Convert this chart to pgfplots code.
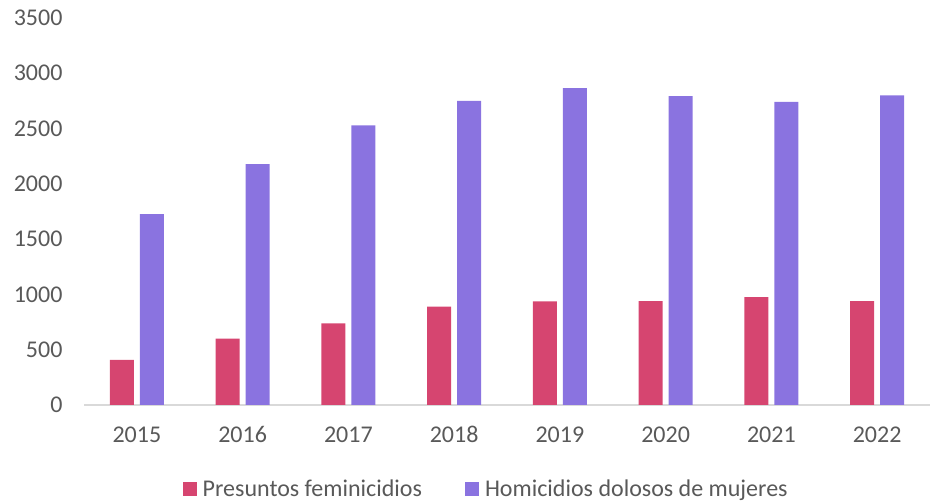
\documentclass[border=0pt]{standalone}
\usepackage{pgfplots}
\pgfplotsset{compat=1.18}
\usepackage{fontspec}
\setmainfont{Carlito}
\definecolor{cred}{HTML}{D64570}
\definecolor{cpur}{HTML}{8A73E0}
\definecolor{ctxt}{HTML}{595959}
\definecolor{cax}{HTML}{D9D9D9}
\begin{document}
\begin{tikzpicture}[x=1pt,y=1pt]
\path[use as bounding box] (0,0) rectangle (932,502);
\begin{axis}[
  at={(84pt,97pt)}, anchor=south west,
  scale only axis, width=846pt, height=387pt,
  font=\fontsize{24}{28}\selectfont, text=ctxt,
  ybar=6pt, bar width=24pt,
  xmin=-0.5, xmax=7.5, ymin=0, ymax=3500,
  xtick={0,...,7},
  xticklabels={2015,2016,2017,2018,2019,2020,2021,2022},
  ytick={0,500,...,3500},
  axis x line*=bottom, axis y line*=left,
  x axis line style={draw=cax, line width=1.5pt, -},
  y axis line style={draw=none},
  major tick length=0pt,
  tick style={draw=none},
  yticklabel style={xshift=-18pt},
  xticklabel style={yshift=-18pt},
  /pgf/number format/assume math mode=true,
  /pgf/number format/1000 sep={},
  legend columns=2,
  legend style={draw=none, at={(0.476,-0.217)}, anchor=center, font=\fontsize{24}{28}\selectfont, text=ctxt,
    /tikz/every odd column/.append style={column sep=3pt},
    /tikz/every even column/.append style={column sep=40pt},
    /tikz/every node/.append style={inner xsep=3pt}},
  legend image code/.code={\fill[#1] (0pt,-7pt) rectangle (14pt,7pt);},
]
\addplot[fill=cred, draw=none] coordinates {(0,407) (1,600) (2,739) (3,889) (4,938) (5,940) (6,976) (7,940)};
\addlegendentry{Presuntos feminicidios}
\addplot[fill=cpur, draw=none] coordinates {(0,1727) (1,2179) (2,2529) (3,2751) (4,2866) (5,2794) (6,2742) (7,2800)};
\addlegendentry{Homicidios dolosos de mujeres}
\end{axis}
\end{tikzpicture}
\end{document}
